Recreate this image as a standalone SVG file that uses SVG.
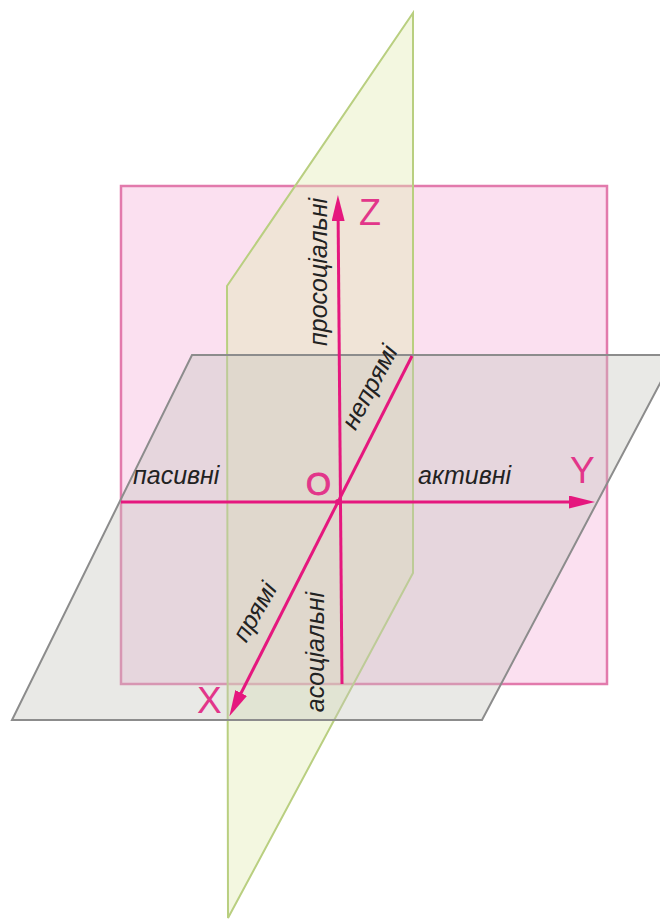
<svg xmlns="http://www.w3.org/2000/svg" width="660" height="920" viewBox="0 0 660 920">
  <defs>
    <style>
      .lbl { font-family: "Liberation Sans", Arial, sans-serif; font-style: italic; font-size: 25px; fill: #222; }
      .ax { font-family: "Liberation Sans", Arial, sans-serif; fill: #e2368a; }
      .axis { stroke: #e5177e; stroke-width: 3; fill: none; }
    </style>
    <marker id="arr" markerUnits="userSpaceOnUse" markerWidth="28" markerHeight="14" refX="18" refY="6.5" orient="auto">
      <path d="M0,0 L26,6.5 L0,13 Z" fill="#e5177e"/>
    </marker>
  </defs>
  <rect width="660" height="920" fill="#ffffff"/>

  <g id="plane-pink">
    <rect x="121" y="186" width="486" height="498" fill="#fbe0f0" stroke="#e27aac" stroke-width="2.5"/>
  </g>
  <g id="plane-green">
    <polygon points="413,13 413,573 228,918 227,286" fill="#e0eab2" fill-opacity="0.4" stroke="#b9cf80" stroke-width="2"/>
  </g>
  <g id="plane-gray">
    <polygon points="192,355 675,355 482,720 12,720" fill="#c4c4bc" fill-opacity="0.38" stroke="#8c8c8c" stroke-width="2"/>
  </g>

  <g id="axes">
    <line id="axis-z" class="axis" x1="342" y1="684" x2="338" y2="203" marker-end="url(#arr)"/>
    <line id="axis-y" class="axis" x1="121" y1="502" x2="587" y2="502" marker-end="url(#arr)"/>
    <line id="axis-x" class="axis" x1="412" y1="356" x2="233" y2="709" marker-end="url(#arr)"/>
    <circle cx="338" cy="502" r="3" fill="#e5177e"/>
  </g>

  <g id="label-z"><text class="ax" x="359" y="225" font-size="36">Z</text></g>
  <g id="label-y"><text class="ax" x="570" y="483" font-size="37">Y</text></g>
  <g id="label-x"><text class="ax" x="197" y="713" font-size="37">X</text></g>
  <g id="label-o"><text class="ax" x="306" y="495" font-size="32" stroke="#e2368a" stroke-width="1">O</text></g>

  <g id="text-prosocial"><text class="lbl" text-anchor="middle" transform="translate(327,272) rotate(-90)">просоціальні</text></g>
  <g id="text-asocial"><text class="lbl" text-anchor="middle" transform="translate(324,652) rotate(-90)">асоціальні</text></g>
  <g id="text-passive"><text class="lbl" x="133" y="484">пасивні</text></g>
  <g id="text-active"><text class="lbl" x="418" y="484">активні</text></g>
  <g id="text-indirect"><text class="lbl" text-anchor="middle" transform="translate(377,391) rotate(-62)">непрямі</text></g>
  <g id="text-direct"><text class="lbl" text-anchor="middle" transform="translate(262,616) rotate(-60)">прямі</text></g>
</svg>
